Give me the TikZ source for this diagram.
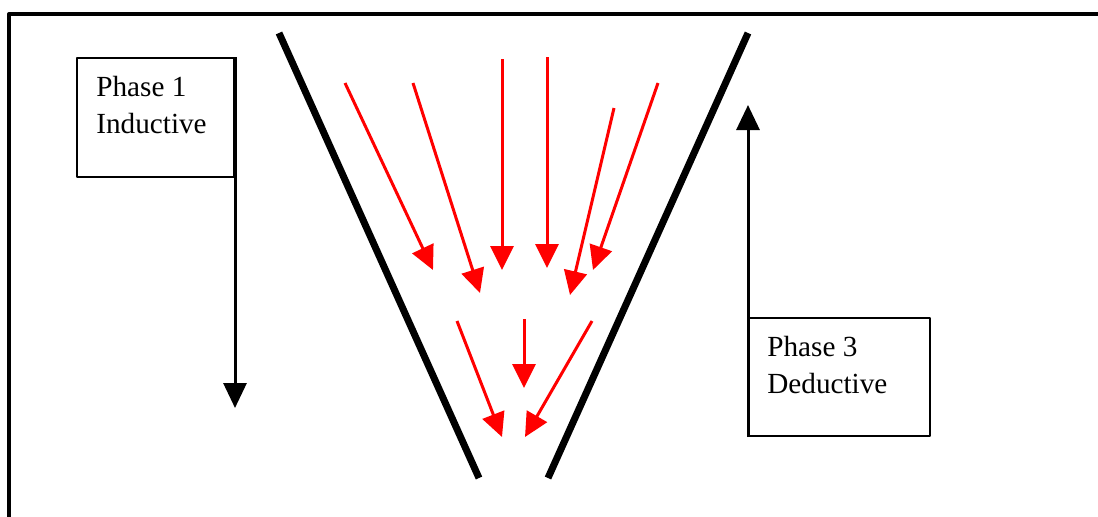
\documentclass[tikz,border=0pt]{standalone}
\usepackage{fontspec}
\setmainfont{Liberation Serif}
\usetikzlibrary{arrows.meta}
\tikzset{
  phasebox/.style={draw, line width=1pt, rectangle, inner sep=0pt},
  phasetext/.style={inner sep=0pt, align=left, anchor=north west},
  redarrow/.style={red, line width=1.5pt, -{Triangle[length=12pt,width=11.5pt]}},
  blackarrow/.style={line width=1.5pt, -{Triangle[length=12.5pt,width=11.5pt]}},
  funnel/.style={line width=3.5pt, line cap=butt}
}
\begin{document}
\begin{tikzpicture}[x=0.5pt, y=-0.5pt, font=\fontsize{14.6}{18.5}\selectfont, line join=round]
\useasboundingbox (0,0) rectangle (1098,516);
%khung
\draw[line width=2pt] (9,520)--(9,14)--(1100,14);
%phễu
\draw[funnel] (279,33)--(479,478) (748,33)--(548,478);
%Phase 1
\node[phasebox, anchor=north west, minimum width=78.5pt, minimum height=59.5pt] (ph1) at (76,57) {};
\node[phasetext] (ph1txt) at (96,76) {Phase 1\\Inductive};
\path (ph1.north east) ++(0,351) coordinate (ph1end);
\draw[blackarrow] (ph1.north east)--(ph1end);
%Phase 3
\node[phasebox, anchor=north west, minimum width=90.5pt, minimum height=59pt] (ph3) at (748,317) {};
\node[phasetext] (ph3txt) at (767,336) {Phase 3\\Deductive};
\path (ph3.south west) ++(0,-332) coordinate (ph3end);
\draw[blackarrow] (ph3.south west)--(ph3end);
%mũi tên đỏ
\foreach \a/\b/\c/\d in {345/83/433/270, 413/83/480/293, 502/59/502/270, 547/57/547/268,
614/108/570/295, 658/83/593/270, 457/321/502/437, 524/319/524/388, 592/321/525/437}
\draw[redarrow] (\a,\b)--(\c,\d);
\end{tikzpicture}
\end{document}
